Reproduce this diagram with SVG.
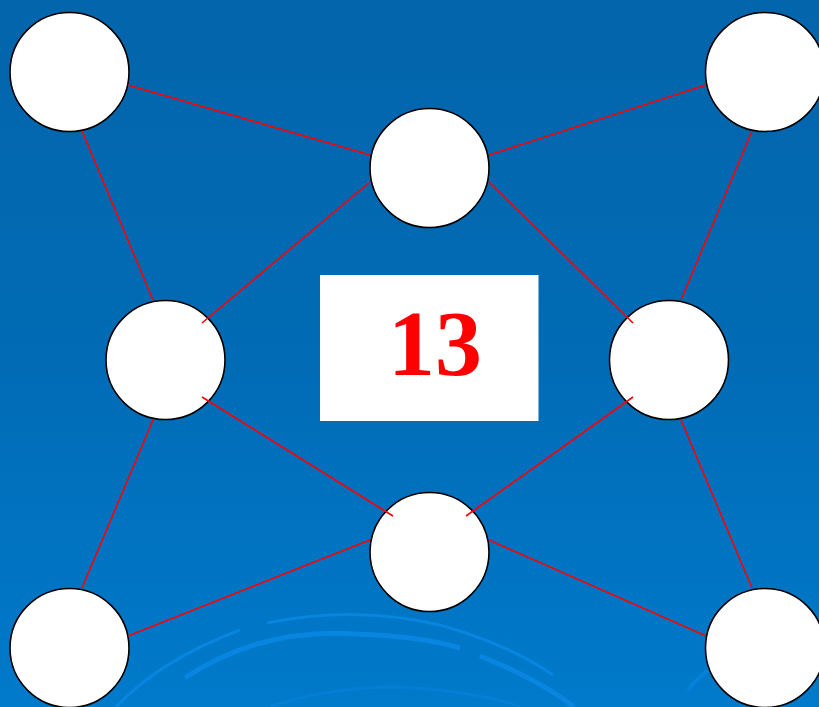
<svg xmlns="http://www.w3.org/2000/svg" width="819" height="707" viewBox="0 0 819 707">
<defs>
<linearGradient id="bg" x1="0" y1="0" x2="0" y2="1">
<stop offset="0" stop-color="#0365AB"/>
<stop offset="0.5" stop-color="#016BB5"/>
<stop offset="1" stop-color="#007ACB"/>
</linearGradient>
</defs>
<style>
.node{fill:#FFFFFF;stroke:#000000;stroke-width:1.6}
.edge{stroke:#FF0000;stroke-width:1.6;fill:none}
.arc{fill:none;stroke:#0A88E4}
</style>
<rect x="0" y="0" width="819" height="707" fill="url(#bg)"/>
<g id="decor" opacity="0.85">
<path class="arc" stroke-width="3" d="M267,623 Q355,605 440,625 Q510,645 553,675"/>
<path class="arc" stroke-width="5" d="M185,678 Q260,628 355,634 Q420,636 460,648"/>
<path class="arc" stroke-width="5" d="M480,656 Q540,680 574,707"/>
<path class="arc" stroke-width="3" d="M116,707 Q160,660 240,630"/>
<path class="arc" stroke-width="3" d="M270,707 Q350,680 440,690 Q500,698 520,707" opacity="0.5"/>
<path class="arc" stroke-width="4" d="M688,690 Q700,675 712,668" opacity="0.7"/>
</g>
<g id="n-tl"><circle class="node" cx="69.5" cy="72" r="59.5"/></g>
<g id="n-tr"><circle class="node" cx="765" cy="72" r="59.5"/></g>
<g id="n-tc"><circle class="node" cx="429.5" cy="168" r="59.5"/></g>
<g id="n-ml"><circle class="node" cx="165.5" cy="360" r="59.5"/></g>
<g id="n-mr"><circle class="node" cx="669" cy="360" r="59.5"/></g>
<g id="n-bc"><circle class="node" cx="429.5" cy="552" r="59.5"/></g>
<g id="n-bl"><circle class="node" cx="69.5" cy="648" r="59.5"/></g>
<g id="n-br"><circle class="node" cx="765" cy="648" r="59.5"/></g>
<g id="connectors">
<line class="edge" x1="128" y1="85" x2="370" y2="155"/>
<line class="edge" x1="489" y1="155" x2="706" y2="85"/>
<line class="edge" x1="82" y1="131" x2="153" y2="300"/>
<line class="edge" x1="752" y1="131" x2="681" y2="300"/>
<line class="edge" x1="370" y1="182" x2="202" y2="323"/>
<line class="edge" x1="489" y1="182" x2="633" y2="323"/>
<line class="edge" x1="202" y1="397" x2="393" y2="516"/>
<line class="edge" x1="633" y1="397" x2="466" y2="516"/>
<line class="edge" x1="153" y1="420" x2="82" y2="588"/>
<line class="edge" x1="681" y1="420" x2="752" y2="588"/>
<line class="edge" x1="370" y1="540" x2="128" y2="636"/>
<line class="edge" x1="489" y1="540" x2="706" y2="636"/>
</g>
<g id="center-label">
<rect x="320" y="275" width="218.5" height="146" fill="#FFFFFF"/>
<text x="435" y="375" text-anchor="middle" font-family="'Liberation Serif', 'Times New Roman', serif" font-weight="bold" font-size="94" fill="#FF0000">13</text>
</g>
</svg>
